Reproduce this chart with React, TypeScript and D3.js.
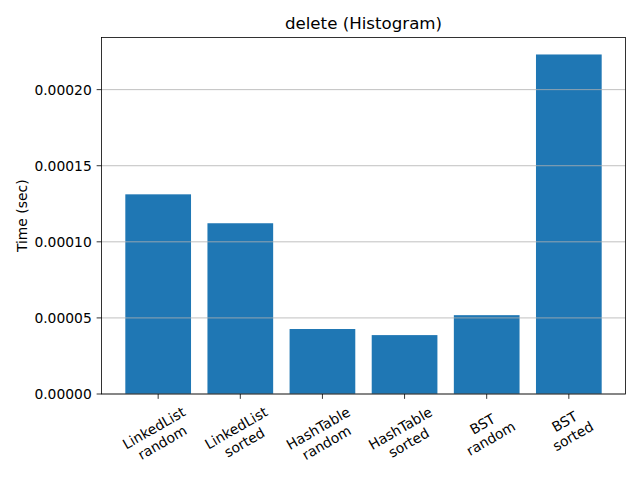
import React from "react";
import * as d3 from "d3";

const categories = [
  "LinkedList\nrandom",
  "LinkedList\nsorted",
  "HashTable\nrandom",
  "HashTable\nsorted",
  "BST\nrandom",
  "BST\nsorted",
];
const times = [0.0001312, 0.0001122, 0.0000427, 0.0000387, 0.0000518, 0.0002231];
const yTicks = [0, 0.00005, 0.0001, 0.00015, 0.0002];
const title = "delete (Histogram)";
const yLabel = "Time (sec)";

const W = 640;
const H = 480;
const left = 101.5;
const right = 625.5;
const top = 37.5;
const bottom = 394;
const FONT = "DejaVu Sans, sans-serif";
const fs = 13.89;
const lineH = fs * 1.2;

function measure(text: string, size: number): number {
  const c = document.createElement("canvas");
  const ctx = c.getContext("2d");
  if (!ctx) return text.length * size * 0.6;
  ctx.font = `${size}px "DejaVu Sans"`;
  return ctx.measureText(text).width;
}

export default function App() {
  const n = categories.length;
  const barW = 0.8;
  const margin = (n - 1 + barW) * 0.05;
  const x = d3
    .scaleLinear()
    .domain([-barW / 2 - margin, n - 1 + barW / 2 + margin])
    .range([left, right]);
  const yMax = d3.max(times)! * 1.05;
  const y = d3.scaleLinear().domain([0, yMax]).range([bottom, top]);
  const fmt = d3.format(".5f");
  const tickLen = 4.86;
  const pad = 4.86;
  const rad = (30 * Math.PI) / 180;

  return (
    <svg width={W} height={H} style={{ position: "absolute", left: 0, top: 0 }} fontFamily={FONT}>
      <rect x={0} y={0} width={W} height={H} fill="#ffffff" />
      {times.map((v, i) => (
        <rect
          key={i}
          x={x(i - barW / 2)}
          y={y(v)}
          width={x(i + barW / 2) - x(i - barW / 2)}
          height={y(0) - y(v)}
          fill="#1f77b4"
        />
      ))}
      {yTicks.map((t, i) => (
        <line key={i} x1={left} x2={right} y1={y(t)} y2={y(t)} stroke="#b0b0b0" strokeWidth={0.8} />
      ))}
      <rect x={left} y={top} width={right - left} height={bottom - top} fill="none" stroke="#000" strokeWidth={0.8} />
      {yTicks.map((t, i) => (
        <g key={i}>
          <line x1={left - tickLen} x2={left} y1={y(t)} y2={y(t)} stroke="#000" strokeWidth={0.8} />
          <text x={left - tickLen - pad} y={y(t)} textAnchor="end" dominantBaseline="central" fontSize={fs} fill="#000">
            {fmt(t)}
          </text>
        </g>
      ))}
      {categories.map((c, i) => {
        const lines = c.split("\n");
        const w = Math.max(...lines.map((l) => measure(l, fs)));
        const h = lineH * (lines.length - 1) + fs * 1.164;
        const bw = w * Math.cos(rad) + h * Math.sin(rad);
        const bh = w * Math.sin(rad) + h * Math.cos(rad);
        const cx = x(i);
        const cy = bottom + tickLen + pad + bh / 2;
        return (
          <g key={i}>
            <line x1={cx} x2={cx} y1={bottom} y2={bottom + tickLen} stroke="#000" strokeWidth={0.8} />
            <g transform={`translate(${cx},${cy}) rotate(-30)`}>
              {lines.map((l, j) => (
                <text key={j} x={0} y={-h / 2 + j * lineH + fs * 0.928} textAnchor="middle" fontSize={fs} fill="#000">
                  {l}
                </text>
              ))}
            </g>
          </g>
        );
      })}
      <text
        transform={`translate(22,${(top + bottom) / 2}) rotate(-90)`}
        textAnchor="middle"
        dominantBaseline="central"
        fontSize={fs}
        fill="#000"
      >
        {yLabel}
      </text>
      <text x={(left + right) / 2} y={top - 8.3} textAnchor="middle" fontSize={16.67} fill="#000">
        {title}
      </text>
    </svg>
  );
}
